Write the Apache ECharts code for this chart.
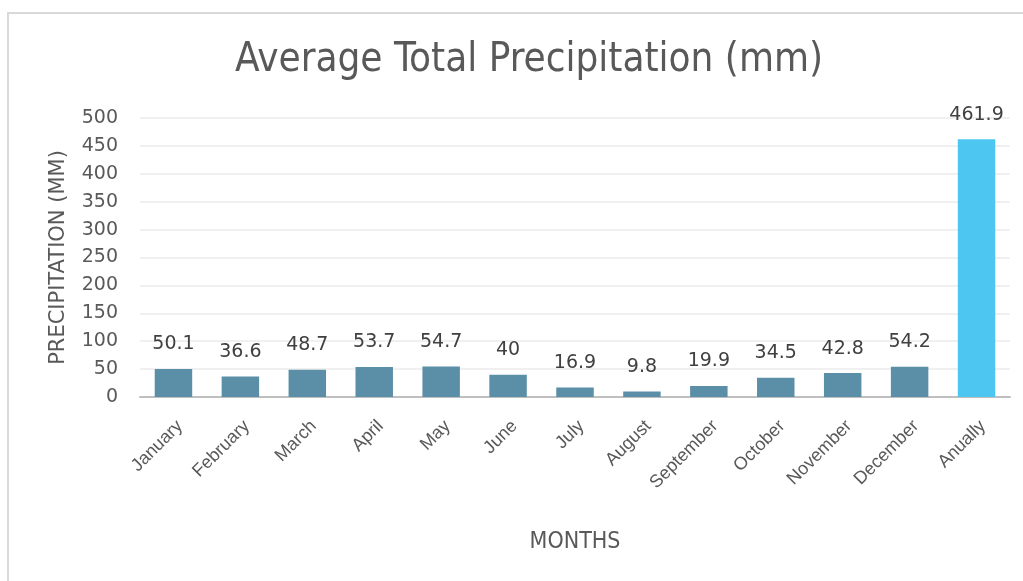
<!DOCTYPE html>
<html>
<head>
<meta charset="utf-8">
<script src="https://cdn.jsdelivr.net/npm/echarts@6/dist/echarts.min.js"></script>
<style>
html,body{margin:0;padding:0;background:#fff;}
#c{width:1023px;height:581px;}
</style>
</head>
<body>
<div id="c"></div>
<script>
const categories = ['January','February','March','April','May','June','July','August','September','October','November','December','Anually'];
const values = [50.1, 36.6, 48.7, 53.7, 54.7, 40, 16.9, 9.8, 19.9, 34.5, 42.8, 54.2, 461.9];
const yTicks = [0, 50, 100, 150, 200, 250, 300, 350, 400, 450, 500];

const monthColor = '#5b8fa7';
const annualColor = '#4ec6f2';
const numFont = '"DejaVu Sans", sans-serif';
const labelFont = '"Liberation Sans", Arial, sans-serif';
const narrowFont = '"Liberation Sans Narrow", "DejaVu Sans Condensed", "Roboto Condensed", sans-serif';

const chart = echarts.init(document.getElementById('c'), null, {renderer: 'canvas'});
chart.setOption({
  animation: false,
  backgroundColor: '#ffffff',
  title: {
    text: 'Average Total Precipitation (mm)',
    left: 524,
    textAlign: 'center',
    top: 36,
    textStyle: {fontFamily: narrowFont, fontSize: 40, fontWeight: 'normal', color: '#595959'}
  },
  graphic: [
    {type: 'line', shape: {x1: 7, y1: 13, x2: 1023, y2: 13}, style: {stroke: '#d9d9d9', lineWidth: 2}},
    {type: 'line', shape: {x1: 8, y1: 13, x2: 8, y2: 581}, style: {stroke: '#d9d9d9', lineWidth: 2}}
  ],
  grid: {left: 140, right: 13, top: 118, bottom: 184},
  xAxis: {
    type: 'category',
    data: categories,
    name: 'MONTHS',
    nameLocation: 'middle',
    nameGap: 134,
    nameTextStyle: {fontFamily: narrowFont, fontSize: 23, color: '#595959'},
    axisLine: {lineStyle: {color: '#bfbfbf', width: 2}},
    axisTick: {show: false},
    axisLabel: {rotate: 45, fontFamily: labelFont, fontSize: 18, color: '#595959', margin: 20, interval: 0, verticalAlign: 'top'}
  },
  yAxis: {
    type: 'value',
    min: 0, max: 500, interval: 50,
    name: 'PRECIPITATION (MM)',
    nameLocation: 'middle',
    nameRotate: 90,
    nameGap: 71,
    nameTextStyle: {fontFamily: numFont, fontSize: 21, color: '#595959'},
    axisLine: {show: false},
    axisTick: {show: false},
    splitLine: {lineStyle: {color: '#ebebeb', width: 1.5}},
    axisLabel: {
      fontFamily: numFont, fontSize: 19, color: '#595959', margin: 22,
      formatter: v => yTicks.includes(v) ? String(v) : ''
    }
  },
  series: [{
    type: 'bar',
    data: values.map((v, i) => ({
      value: v,
      itemStyle: {color: i === values.length - 1 ? annualColor : monthColor}
    })),
    barWidth: '56%',
    label: {
      show: true,
      position: 'top',
      distance: 15,
      fontFamily: numFont,
      fontSize: 19,
      color: '#404040',
      formatter: p => String(p.value)
    }
  }]
});
</script>
</body>
</html>
